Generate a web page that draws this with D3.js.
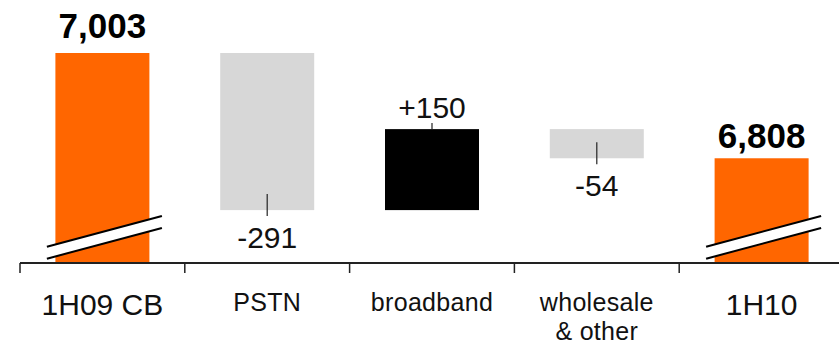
<!DOCTYPE html>
<html>
<head>
<meta charset="utf-8">
<script src="https://cdn.jsdelivr.net/npm/d3@7"></script>
<style>
  html, body { margin: 0; padding: 0; background: #fff; }
  svg { display: block; font-family: "Liberation Sans", Arial, Helvetica, sans-serif; }
</style>
</head>
<body>
<svg id="chart" width="839" height="346"></svg>
<script>
// Revenue bridge, 1H09 CB -> 1H10
const categories = ["1H09 CB", "PSTN", "broadband", "wholesale & other", "1H10"];
const categoryLines = [["1H09 CB"], ["PSTN"], ["broadband"], ["wholesale", "& other"], ["1H10"]];
const values = [7003, -291, 150, -54, 6808];
const kinds = ["total", "delta", "delta", "delta", "total"];
const valueLabels = ["7,003", "-291", "+150", "-54", "6,808"];

const W = 839, H = 346;
const axisY = 263;

const svg = d3.select("#chart");

const x = d3.scaleBand().domain(categories).range([20, 844]).padding(0);
const y = d3.scaleLinear().domain([6614, 7003]).range([axisY, 53]);

// Build the waterfall segments
let running = 0;
const bars = categories.map((c, i) => {
  let lo, hi;
  if (kinds[i] === "total") {
    lo = y.domain()[0]; hi = values[i]; running = values[i];
  } else {
    const start = running, end = running + values[i];
    lo = Math.min(start, end); hi = Math.max(start, end); running = end;
  }
  const color = kinds[i] === "total" ? "#ff6600" : (values[i] < 0 ? "#d7d7d7" : "#000000");
  return { cat: c, i, lo, hi, v: values[i], kind: kinds[i], label: valueLabels[i], color };
});

const barW = 94;
const cx = d => x(d.cat) + x.bandwidth() / 2;

svg.append("g").selectAll("rect")
  .data(bars)
  .join("rect")
  .attr("x", d => cx(d) - barW / 2)
  .attr("width", barW)
  .attr("y", d => y(d.hi))
  .attr("height", d => y(d.lo) - y(d.hi))
  .attr("fill", d => d.color);

// Axis break marks on the total bars
const totals = bars.filter(d => d.kind === "total");
const brk = svg.append("g");
totals.forEach(d => {
  const x0 = cx(d) - 55.5, x1 = cx(d) + 59.5;
  const u0 = axisY - 16.3, u1 = axisY - 47;
  const l0 = axisY - 4.3, l1 = axisY - 35;
  brk.append("path")
    .attr("d", `M${x0},${u0}L${x1},${u1}L${x1},${l1}L${x0},${l0}Z`)
    .attr("fill", "#fff");
  brk.append("line").attr("x1", x0).attr("y1", u0).attr("x2", x1).attr("y2", u1)
    .attr("stroke", "#000").attr("stroke-width", 2);
  brk.append("line").attr("x1", x0).attr("y1", l0).attr("x2", x1).attr("y2", l1)
    .attr("stroke", "#000").attr("stroke-width", 2);
});

// Value labels: bold totals above, leaders + labels for changes
const lab = svg.append("g").attr("text-anchor", "middle");
totals.forEach(d => {
  lab.append("text")
    .attr("x", cx(d))
    .attr("y", y(d.hi) - (d.i === 0 ? 15 : 10))
    .attr("font-size", 35)
    .attr("font-weight", "bold")
    .attr("fill", "#000")
    .text(d.label);
});
bars.filter(d => d.kind === "delta").forEach(d => {
  if (d.v < 0) {
    const yb = y(d.lo);
    lab.append("line").attr("x1", cx(d)).attr("x2", cx(d))
      .attr("y1", yb - 16).attr("y2", yb + 6)
      .attr("stroke", "#222").attr("stroke-width", 1.2);
    lab.append("text").attr("x", cx(d)).attr("y", yb + 38)
      .attr("font-size", 30).attr("fill", "#111").text(d.label);
  } else {
    const yt = y(d.hi);
    lab.append("line").attr("x1", cx(d)).attr("x2", cx(d))
      .attr("y1", yt - 6).attr("y2", yt)
      .attr("stroke", "#222").attr("stroke-width", 1.2);
    lab.append("text").attr("x", cx(d)).attr("y", yt - 11)
      .attr("font-size", 30).attr("fill", "#111").text(d.label);
  }
});

// Category axis with ticks at band edges
const ax = svg.append("g");
ax.append("line").attr("x1", 20).attr("x2", W).attr("y1", axisY).attr("y2", axisY)
  .attr("stroke", "#222").attr("stroke-width", 2);
ax.selectAll("line.tick")
  .data(categories.concat(["end"]))
  .join("line")
  .attr("class", "tick")
  .attr("x1", (c, i) => i < categories.length ? x(c) : x.range()[1])
  .attr("x2", (c, i) => i < categories.length ? x(c) : x.range()[1])
  .attr("y1", axisY).attr("y2", axisY + 10)
  .attr("stroke", "#222").attr("stroke-width", 1.5);

const catText = ax.append("g").attr("text-anchor", "middle").attr("fill", "#111");
categories.forEach((c, i) => {
  const big = kinds[i] === "total";
  const t = catText.append("text")
    .attr("x", x(c) + x.bandwidth() / 2)
    .attr("y", big ? 315 : 310.5)
    .attr("font-size", big ? 30 : 25)
    .attr("letter-spacing", big ? 0 : 0.3);
  categoryLines[i].forEach((line, k) => {
    t.append("tspan").attr("x", x(c) + x.bandwidth() / 2).attr("dy", k === 0 ? 0 : 29).text(line);
  });
});
</script>
</body>
</html>
